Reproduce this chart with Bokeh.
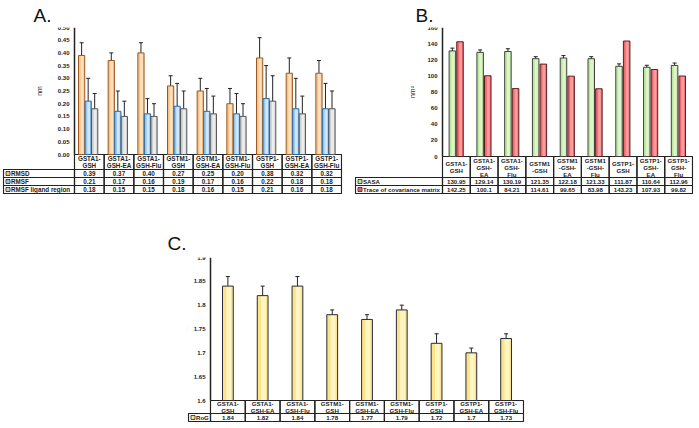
from bokeh.plotting import figure
from bokeh.layouts import column, row, Spacer
from bokeh.models import (Range1d, FixedTicker, NumeralTickFormatter, CustomJSTickFormatter,
                          ColumnDataSource, Whisker, TeeHead)
from bokeh.core.properties import value
from bokeh.embed import file_html
from bokeh.resources import INLINE

FONT = "Liberation Sans"

# ---- Panel A: RMSD / RMSF ----
labels_a = ["GSTA1-\nGSH", "GSTA1-\nGSH-EA", "GSTA1-\nGSH-Flu",
            "GSTM1-\nGSH", "GSTM1-\nGSH-EA", "GSTM1-\nGSH-Flu",
            "GSTP1-\nGSH", "GSTP1-\nGSH-EA", "GSTP1-\nGSH-Flu"]
rmsd = [0.39, 0.37, 0.40, 0.27, 0.25, 0.20, 0.38, 0.32, 0.32]
rmsd_err = [0.05, 0.03, 0.04, 0.04, 0.05, 0.06, 0.08, 0.06, 0.05]
rmsf = [0.21, 0.17, 0.16, 0.19, 0.17, 0.16, 0.22, 0.18, 0.18]
rmsf_err = [0.09, 0.08, 0.06, 0.09, 0.09, 0.08, 0.13, 0.12, 0.10]
rmsf_lig = [0.18, 0.15, 0.15, 0.18, 0.16, 0.15, 0.21, 0.16, 0.18]
rmsf_lig_err = [0.06, 0.06, 0.05, 0.07, 0.07, 0.05, 0.10, 0.07, 0.07]
ticks_a = [0.0, 0.05, 0.10, 0.15, 0.20, 0.25, 0.30, 0.35, 0.40, 0.45, 0.50]

# ---- Panel B: SASA / trace of covariance matrix ----
labels_b = ["GSTA1-\nGSH", "GSTA1-\nGSH-\nEA", "GSTA1-\nGSH-\nFlu",
            "GSTM1\n-GSH", "GSTM1\n-GSH-\nEA", "GSTM1\n-GSH-\nFlu",
            "GSTP1-\nGSH", "GSTP1-\nGSH-\nEA", "GSTP1-\nGSH-\nFlu"]
sasa = [130.95, 129.14, 130.19, 121.35, 122.18, 121.33, 111.87, 110.64, 112.96]
sasa_err = [3.5, 3.0, 3.5, 2.5, 3.0, 2.5, 3.0, 2.5, 3.0]
trace = [142.25, 100.1, 84.21, 114.61, 99.65, 83.98, 143.23, 107.93, 99.82]
ticks_b = [0, 20, 40, 60, 80, 100, 120, 140, 160]

# ---- Panel C: radius of gyration ----
labels_c = ["GSTA1-\nGSH", "GSTA1-\nGSH-EA", "GSTA1-\nGSH-Flu",
            "GSTM1-\nGSH", "GSTM1-\nGSH-EA", "GSTM1-\nGSH-Flu",
            "GSTP1-\nGSH", "GSTP1-\nGSH-EA", "GSTP1-\nGSH-Flu"]
rog = [1.84, 1.82, 1.84, 1.78, 1.77, 1.79, 1.72, 1.7, 1.73]
rog_err = [0.02, 0.02, 0.02, 0.01, 0.01, 0.01, 0.02, 0.01, 0.01]
ticks_c = [1.6, 1.65, 1.7, 1.75, 1.8, 1.85, 1.9]

N = 9
XPOS = list(range(1, N + 1))
INK = "#222222"


def make_panel(fig_w, plot_l, plot_r, top, chart_h, table_l, header_h, row_h,
               yr, ticks, formatter, ylabel, label_standoff, letter, letter_x, letter_gap,
               headers, rows, font_px):
    """One figure holding the bar chart and, below it, the data table."""
    pad = 1
    ppu = (plot_r - plot_l) / N                  # pixels per category
    upp = (yr[1] - yr[0]) / chart_h              # data units per pixel
    table_h = header_h + row_h * len(rows)
    x_leg = 0.5 - (plot_l - table_l) / ppu       # left edge of the legend column
    p = figure(width=fig_w, height=top + chart_h + table_h + pad,
               x_range=Range1d(x_leg - pad / ppu, N + 0.5 + pad / ppu),
               y_range=Range1d(yr[0] - (table_h + pad) * upp, yr[1]),
               x_axis_location=None, output_backend="svg", toolbar_location=None,
               min_border_left=table_l - pad, min_border_right=fig_w - plot_r - pad,
               min_border_top=top, min_border_bottom=0, title=letter)
    p.outline_line_color = None
    p.xgrid.visible = False
    p.ygrid.visible = False
    p.border_fill_color = "white"
    p.title.text_font = FONT
    p.title.text_font_size = "19px"
    p.title.text_font_style = "normal"
    p.title.text_color = "#111111"
    p.title.offset = letter_x - (table_l - pad)
    p.title.standoff = letter_gap

    ax = p.yaxis[0]
    ax.fixed_location = 0.5
    ax.bounds = (yr[0], yr[1])
    ax.ticker = FixedTicker(ticks=ticks)
    ax.formatter = formatter
    ax.major_tick_out = 0
    ax.major_tick_in = 0
    ax.minor_tick_out = 0
    ax.minor_tick_in = 0
    ax.axis_line_width = 1.5
    ax.axis_line_color = INK
    ax.major_label_text_font = FONT
    ax.major_label_text_font_size = "6px"
    ax.major_label_text_font_style = "bold"
    ax.major_label_text_color = INK
    ax.major_label_standoff = 5
    ax.axis_label = ylabel
    ax.axis_label_text_font = FONT
    ax.axis_label_text_font_size = "7px"
    ax.axis_label_text_font_style = "normal"
    ax.axis_label_text_color = INK
    ax.axis_label_standoff = label_standoff

    # ---- table under the bars ----
    def ty(px):
        return yr[0] - px * upp

    txt = dict(text_font=value(FONT), text_font_size=f"{font_px}px",
               text_font_style="bold", text_color=INK, text_baseline="middle")
    p.quad(left=[x - 0.5 for x in XPOS], right=[x + 0.5 for x in XPOS],
           top=[ty(0)] * N, bottom=[ty(header_h)] * N, fill_color=None,
           line_color=INK, line_width=1.2)
    p.text(x=XPOS, y=[ty(header_h / 2)] * N, text=headers, text_align="center",
           text_line_height=1.0, **txt)
    for k, (name, fill, line, strs) in enumerate(rows):
        y0 = header_h + row_h * k
        ym = ty(y0 + row_h / 2)
        p.quad(left=[x_leg] + [x - 0.5 for x in XPOS], right=[0.5] + [x + 0.5 for x in XPOS],
               top=[ty(y0)] * (N + 1), bottom=[ty(y0 + row_h)] * (N + 1), fill_color=None,
               line_color=INK, line_width=1.2)
        p.scatter(x=[x_leg + 4.5 / ppu], y=[ym], marker="square", size=4,
                  fill_color=fill, line_color=INK, line_width=0.8)
        p.text(x=[x_leg + 7.5 / ppu], y=[ym], text=[name], text_align="left", **txt)
        p.text(x=XPOS, y=[ym] * N, text=strs, text_align="center", **txt)
    return p


def add_bars(p, vals, errs, offset, width, fill, shine, line, bottom):
    xs = [x + offset for x in XPOS]
    p.vbar(x=xs, top=vals, bottom=bottom, width=width, fill_color=fill,
           line_color=None)
    # lighter band down the middle of each bar for a soft shaded look
    p.vbar(x=[x + width * 0.08 for x in xs], top=vals, bottom=bottom, width=width * 0.45,
           fill_color=shine, line_color=None)
    p.vbar(x=xs, top=vals, bottom=bottom, width=width, fill_color=None,
           line_color=line, line_width=1)
    if errs is not None:
        src = ColumnDataSource(dict(x=xs, lo=[v - e for v, e in zip(vals, errs)],
                                    hi=[v + e for v, e in zip(vals, errs)]))
        w = Whisker(base="x", lower="lo", upper="hi", source=src,
                    line_color=INK, line_width=1,
                    upper_head=TeeHead(size=4, line_color=INK, line_width=1),
                    lower_head=TeeHead(size=4, line_color=INK, line_width=1))
        p.add_layout(w)


# colours: (fill, highlight, outline)
C_RMSD, S_RMSD, L_RMSD = "#f7c285", "#fde0bd", "#9a5a22"
C_RMSF, S_RMSF, L_RMSF = "#93c5ec", "#cfe7fa", "#2c6aa5"
C_LIG, S_LIG, L_LIG = "#cfcfcf", "#ececec", "#555555"
C_SASA, S_SASA, L_SASA = "#bde79e", "#def5cc", "#444444"
C_TRACE, S_TRACE, L_TRACE = "#f0686e", "#f89ca0", "#5a2020"
C_ROG, S_ROG, L_ROG = "#fae48a", "#fff4c4", "#2a2a3a"

# ---- Panel A ----
pa = make_panel(350, 74, 341, 27, 127, 3, 15, 8, (0, 0.5), ticks_a,
                NumeralTickFormatter(format="0.00"), "nm", 12, "A.", 33, 4, labels_a, [
                    ("RMSD", C_RMSD, L_RMSD, [f"{v:.2f}" for v in rmsd]),
                    ("RMSF", C_RMSF, L_RMSF, [f"{v:.2f}" for v in rmsf]),
                    ("RMSF ligand region", C_LIG, L_LIG, [f"{v:.2f}" for v in rmsf_lig]),
                ], 6.3)
add_bars(pa, rmsd, rmsd_err, -0.26, 0.21, C_RMSD, S_RMSD, L_RMSD, 0)
add_bars(pa, rmsf, rmsf_err, -0.04, 0.21, C_RMSF, S_RMSF, L_RMSF, 0)
add_bars(pa, rmsf_lig, rmsf_lig_err, 0.18, 0.21, C_LIG, S_LIG, L_LIG, 0)

# ---- Panel B ----
pb = make_panel(349, 92, 342, 27, 129, 5, 21, 8, (0, 160), ticks_b,
                NumeralTickFormatter(format="0"), "nm²", 8, "B.", 65, 4, labels_b, [
                    ("SASA", C_SASA, L_SASA, [f"{v:g}" for v in sasa]),
                    ("Trace of covariance matrix", C_TRACE, L_TRACE, [f"{v:g}" for v in trace]),
                ], 6.1)
add_bars(pb, sasa, sasa_err, -0.145, 0.235, C_SASA, S_SASA, L_SASA, 0)
add_bars(pb, trace, None, 0.13, 0.235, C_TRACE, S_TRACE, L_TRACE, 0)

# ---- Panel C ----
fmt_c = CustomJSTickFormatter(code="return tick.toFixed(2).replace(/0$/, '');")
pc = make_panel(370, 50, 363, 32, 143, 28, 13, 8, (1.6, 1.9), ticks_c, fmt_c,
                "nm", 3, "C.", 7, 8, labels_c, [
                    ("RoG", C_ROG, L_ROG, [f"{v:g}" for v in rog]),
                ], 6.1)
add_bars(pc, rog, rog_err, 0.0, 0.31, C_ROG, S_ROG, L_ROG, 1.6)

layout = column(
    row(pa, pb),
    Spacer(height=31),
    row(Spacer(width=160), pc),
)

open("out.html", "w").write(file_html(layout, INLINE))
